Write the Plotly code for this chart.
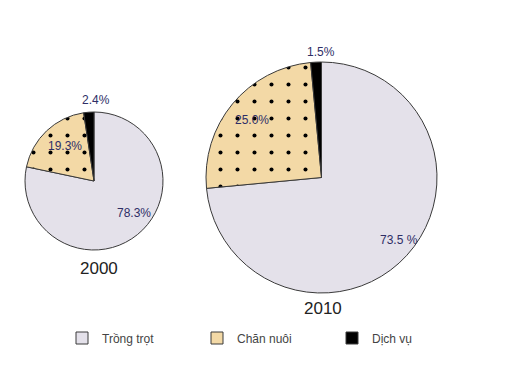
import plotly.graph_objects as go

categories = ["Trồng trọt", "Chăn nuôi", "Dịch vụ"]
years = ["2000", "2010"]
values_2000 = [78.3, 19.3, 2.4]
values_2010 = [73.5, 25.0, 1.5]
suffix_2000 = ["%", "%", "%"]
suffix_2010 = [" %", "%", "%"]

colors = ["#e4e1ea", "#f3d9a6", "#000000"]
patterns = ["", ".", ""]

# page has an 8px body margin; figure drawn in the remaining space
OFF = 8
FW, FH = 519, 372


def px(x):
    return (x - OFF) / FW


def py(y):
    return 1 - (y - OFF) / FH


def pie(values, x0, x1, y0, y1, show):
    return go.Pie(
        labels=categories, values=values,
        textinfo="none",
        sort=False, direction="clockwise", rotation=0,
        marker=dict(colors=colors, line=dict(color="#3a3a3a", width=1),
                    pattern=dict(shape=patterns, fgcolor="#000000",
                                 bgcolor=colors, size=17, solidity=0.045,
                                 fillmode="replace")),
        domain=dict(x=[px(x0), px(x1)], y=[py(y1), py(y0)]),
        showlegend=show,
        hoverinfo="label+percent",
    )


fig = go.Figure()
fig.add_trace(pie(values_2000, 25, 163, 112, 250, True))
fig.add_trace(pie(values_2010, 206, 437, 62, 293, False))

lab_font = dict(family="Liberation Sans, Arial", size=12, color="#2e2e66")
label_pos_2000 = [(134, 213), (65, 146), (96, 100)]
label_pos_2010 = [(399, 240), (252, 120), (321, 52)]
for vals, sufs, poss in [(values_2000, suffix_2000, label_pos_2000),
                         (values_2010, suffix_2010, label_pos_2010)]:
    for v, s, (x, y) in zip(vals, sufs, poss):
        fig.add_annotation(x=px(x), y=py(y), xref="paper", yref="paper",
                           xanchor="center", yanchor="middle",
                           text=f"{v:.1f}{s}", showarrow=False, font=lab_font)

year_font = dict(family="Liberation Sans, Arial", size=17, color="#222")
for yr, (x, y) in zip(years, [(99, 268), (323, 308)]):
    fig.add_annotation(x=px(x), y=py(y), xref="paper", yref="paper",
                       xanchor="center", yanchor="middle",
                       text=yr, showarrow=False, font=year_font)

fig.update_layout(
    width=FW, height=FH, margin=dict(l=0, r=0, t=0, b=0),
    paper_bgcolor="white", plot_bgcolor="white",
    legend=dict(orientation="h", x=px(62), y=py(338), xanchor="left", yanchor="middle",
                entrywidth=90, entrywidthmode="pixels", itemwidth=30,
                font=dict(family="Liberation Sans, Arial", size=12, color="#444")),
)
fig.write_html("out.html")
